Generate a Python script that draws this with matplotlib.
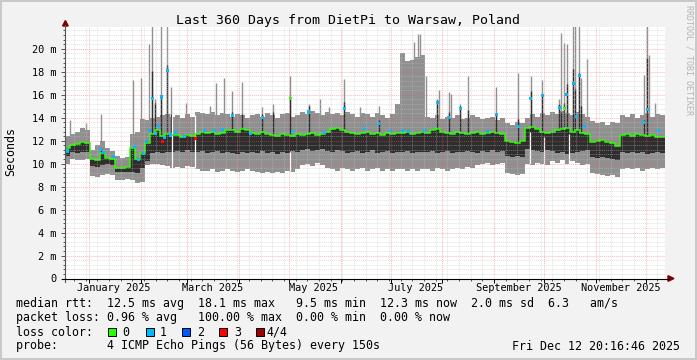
import numpy as np
import matplotlib
matplotlib.use("Agg")
import matplotlib.pyplot as plt
import matplotlib.dates as mdates
from matplotlib.ticker import MultipleLocator, FuncFormatter
from matplotlib.patches import Rectangle, Polygon
from matplotlib.lines import Line2D
from datetime import datetime

# ==========================================
# DATA (3-day bins)
# ==========================================
START = datetime(2024, 12, 17, 20, 16, 46)
BIN_DAYS = 3

# smoke top / bottom (light gray band), seconds * 1e-3
hi = [
    12.4, 12.6, 12.8, 13.1, 12.9, 11.2, 11.6, 12.0, 11.4, 11.1,
    10.7, 10.5, 10.6, 12.6, 12.8, 13.9, 13.8, 14.0, 14.1, 14.2,
    14.3, 14.1, 14.2, 14.0, 14.3, 14.1, 14.5, 14.4, 14.3, 14.5,
    14.2, 14.4, 14.3, 14.1, 14.3, 14.2, 14.0, 14.2, 14.3, 14.1,
    14.4, 14.2, 14.0, 14.3, 14.4, 14.1, 14.2, 14.5, 14.3, 14.6,
    14.4, 14.2, 14.5, 14.3, 14.4, 14.2, 14.5, 14.3, 14.1, 14.4,
    14.3, 14.1, 14.4, 14.2, 14.0, 14.3, 15.2, 19.6, 18.9, 19.0,
    19.3, 19.5, 14.1, 14.0, 14.2, 13.9, 14.1, 14.0, 14.2, 13.9,
    14.0, 14.2, 14.1, 13.9, 14.0, 14.1, 13.8, 14.0, 13.5, 13.4,
    13.6, 13.5, 14.0, 14.3, 14.1, 14.4, 14.2, 14.5, 14.3, 14.6,
    14.4, 14.2, 14.5, 14.3, 14.1, 13.7, 13.5, 13.6, 13.4, 13.6,
    13.5, 14.2, 14.1, 14.3, 14.0, 14.2, 14.4, 14.1, 14.3, 14.2,
]
lo = [
    10.0, 10.4, 10.3, 10.3, 10.4, 8.9, 8.8, 9.0, 9.1, 9.0,
    8.6, 8.6, 8.7, 8.6, 8.3, 8.4, 9.9, 10.0, 10.0, 9.9,
    9.8, 9.6, 9.7, 9.6, 9.8, 9.7, 9.5, 9.4, 9.4, 9.5,
    9.3, 9.4, 9.5, 9.4, 9.3, 9.4, 9.5, 9.4, 9.3, 9.2,
    9.3, 9.2, 9.3, 9.2, 9.4, 9.3, 9.5, 9.9, 10.0, 9.8,
    10.1, 9.9, 9.6, 9.5, 9.4, 9.6, 9.5, 9.4, 9.5, 9.6,
    9.4, 9.5, 9.6, 9.4, 9.5, 9.4, 9.5, 9.5, 9.4, 9.5,
    9.4, 9.5, 9.5, 9.4, 9.6, 9.5, 9.4, 9.5, 9.6, 9.5,
    9.7, 9.6, 9.9, 10.0, 10.1, 9.9, 10.0, 10.1, 9.2, 9.1,
    9.0, 9.1, 10.0, 9.9, 10.1, 10.0, 9.9, 10.2, 10.1, 10.3,
    10.0, 10.2, 10.1, 9.9, 10.0, 9.2, 9.1, 9.0, 8.9, 9.0,
    8.8, 9.5, 9.6, 9.5, 9.6, 9.4, 9.5, 9.6, 9.5, 9.6,
]
# dark smoke bottom, top is the median
dlo = [
    10.7, 11.0, 10.9, 11.0, 11.0, 9.8, 9.7, 9.9, 10.0, 9.9,
    9.3, 9.3, 9.3, 9.3, 9.2, 9.6, 10.2, 10.9, 11.0, 10.9,
    11.0, 11.0, 11.1, 11.0, 11.2, 11.0, 11.0, 11.1, 10.9, 11.0,
    11.1, 10.9, 11.0, 10.9, 10.8, 11.0, 10.9, 11.0, 10.9, 11.1,
    10.9, 11.0, 10.8, 11.0, 10.9, 11.1, 11.0, 11.2, 11.3, 11.1,
    11.2, 11.3, 11.1, 11.0, 11.2, 11.1, 10.9, 11.0, 11.1, 10.9,
    11.0, 11.2, 10.9, 11.0, 11.1, 10.9, 11.0, 11.0, 11.1, 10.9,
    11.0, 11.0, 11.0, 11.1, 10.9, 11.0, 11.1, 10.9, 11.0, 11.0,
    11.1, 11.0, 10.9, 11.1, 11.0, 11.2, 11.0, 11.1, 10.7, 10.6,
    10.7, 10.6, 11.3, 11.2, 11.1, 11.0, 11.2, 11.1, 10.9, 11.0,
    10.8, 10.9, 11.0, 11.1, 11.2, 10.6, 10.5, 10.6, 10.5, 10.4,
    10.3, 11.0, 10.9, 11.0, 10.9, 11.0, 10.8, 10.9, 11.0, 10.9,
]
med = [
    11.4, 11.6, 11.7, 11.9, 11.8, 10.4, 10.3, 10.9, 10.5, 10.4,
    9.6, 9.6, 9.7, 11.4, 10.4, 10.9, 11.8, 12.6, 12.9, 12.4,
    12.6, 12.5, 12.5, 12.3, 12.5, 12.4, 12.6, 12.8, 12.7, 12.8,
    12.6, 12.7, 12.9, 12.9, 12.8, 13.0, 12.9, 12.7, 12.6, 12.8,
    12.6, 12.5, 12.4, 12.6, 12.5, 12.4, 12.6, 12.5, 12.6, 12.7,
    12.5, 12.6, 12.8, 13.0, 13.1, 12.9, 12.8, 12.7, 12.6, 12.7,
    12.8, 12.6, 12.7, 12.5, 12.7, 12.6, 12.7, 12.7, 12.8, 12.6,
    12.7, 12.8, 12.7, 12.9, 13.0, 12.8, 12.7, 12.6, 12.8, 12.7,
    12.6, 12.7, 12.8, 12.6, 12.7, 12.8, 12.7, 12.6, 12.0, 11.9,
    11.8, 12.0, 13.1, 13.2, 13.0, 12.8, 12.7, 12.8, 12.9, 13.0,
    13.1, 12.8, 12.9, 12.7, 12.6, 11.9, 12.0, 12.1, 11.9, 11.8,
    11.5, 12.5, 12.6, 12.4, 12.6, 12.5, 12.4, 12.5, 12.3, 12.3,
]

# narrow spikes: day offset, smoke top, dark top (nan = none)
nan = np.nan
spike_day = [3.0, 12.6, 21.3, 40.8, 45.6, 50.0, 52.2, 53.9, 57.6, 60.8,
             63.2, 72.2, 86.7, 90.6, 95.4, 99.9, 106.0, 118.0, 124.4, 134.9,
             146.1, 152.9, 158.2, 167.4, 176.8, 188.3, 209.0, 211.6, 212.8, 216.5,
             223.0, 224.3, 230.0, 231.4, 236.8, 241.6, 258.2, 271.6, 279.2, 286.0,
             296.0, 297.4, 299.0, 300.7, 304.6, 305.8, 308.0, 309.4, 312.7, 347.0,
             349.0, 350.2, 353.8]
spike_top = [13.8, 13.5, 14.3, 17.3, 17.5, 20.4, 22.0, 15.6, 22.0, 22.0,
             16.7, 15.3, 15.0, 17.0, 17.5, 16.3, 17.1, 14.9, 15.2, 17.6,
             15.2, 15.6, 14.9, 17.4, 14.9, 15.0, 20.6, 21.3, 21.3, 17.6,
             15.6, 16.4, 16.2, 16.1, 15.2, 17.6, 16.7, 17.9, 17.6, 17.3,
             15.6, 21.4, 20.5, 20.4, 22.0, 22.0, 22.0, 17.5, 19.1, 17.7,
             22.0, 19.5, 15.3]
spike_dark = [nan, nan, 11.4, nan, nan, nan, 18.1, 15.3, 16.0, 18.6,
              14.3, nan, nan, nan, nan, 14.5, 14.3, 14.3, 14.5, 15.8,
              15.0, nan, nan, 15.4, nan, 13.8, nan, nan, nan, nan,
              15.5, nan, 14.5, nan, 15.0, 14.7, 14.4, 13.9, 16.3, 16.0,
              15.2, 14.5, 15.3, 16.9, 18.2, 16.5, 17.9, 15.0, nan, 13.8,
              19.2, nan, nan]

# median points with packet loss (0 = none, 1 = 1 of 4, 3 = 3 of 4)
loss_day = [1.0, 20.8, 22.6, 28.6, 41.2, 43.6, 46.6, 48.4, 50.5, 52.4,
            53.8, 56.0, 57.8, 58.0, 59.5, 61.0, 62.8, 65.8, 71.2, 77.8,
            83.2, 89.2, 94.0, 100.0, 110.8, 118.0, 134.8, 136.0, 146.0, 155.2,
            167.2, 179.2, 188.0, 194.8, 202.0, 206.0, 215.2, 223.0, 230.0, 236.8,
            253.0, 258.4, 271.6, 279.2, 286.0, 296.2, 299.2, 300.7, 304.6, 306.4,
            308.2, 311.2, 347.0, 349.0, 355.6]
loss_val = [11.1, 11.2, 11.0, 10.6, 11.5, 10.4, 10.9, 11.9, 12.9, 15.7,
            12.6, 13.2, 15.8, 11.9, 12.3, 18.1, 12.5, 12.7, 12.4, 12.2,
            12.9, 12.9, 13.0, 14.2, 12.6, 14.0, 15.7, 12.8, 14.5, 12.7,
            14.8, 13.1, 13.5, 12.9, 12.9, 12.8, 12.9, 15.3, 14.0, 14.8,
            12.8, 14.3, 13.2, 15.7, 15.9, 14.9, 14.8, 16.0, 17.0, 14.1,
            17.7, 13.2, 13.6, 14.7, 12.9]
loss_lvl = [1, 1, 1, 1, 1, 1, 1, 1, 1, 1,
            1, 1, 1, 3, 1, 1, 1, 1, 1, 3,
            1, 1, 1, 1, 1, 1, 0, 1, 1, 1,
            1, 1, 1, 1, 1, 1, 1, 1, 1, 1,
            1, 1, 1, 1, 1, 1, 0, 1, 1, 1,
            1, 1, 1, 1, 1]

# missing samples (white gaps): day offset, top of gap
gap_day = [64.0, 77.5, 134.6, 278.8, 287.0, 302.0]
gap_top = [14.3, 14.2, 11.0, 12.8, 12.3, 12.6]

loss_labels = ["0", "1", "2", "3", "4/4"]
loss_colors = ["#26ff00", "#00b8ff", "#0059ff", "#ff0000", "#a00000"]

label_month = [1, 3, 5, 7, 9, 11]
label_text = ["January 2025", "March 2025", "May 2025",
              "July 2025", "September 2025", "November 2025"]

title = "Last 360 Days from DietPi to Warsaw, Poland"
rtt_line = "median rtt:  12.5 ms avg  18.1 ms max   9.5 ms min  12.3 ms now  2.0 ms sd  6.3   am/s"
loss_line = "packet loss: 0.96 % avg   100.00 % max  0.00 % min  0.00 % now"
probe_line = "probe:       4 ICMP Echo Pings (56 Bytes) every 150s"
stamp = "Fri Dec 12 20:16:46 2025"

# ==========================================
# STYLE
# ==========================================
W, H = 697, 360
BACK = "#f2f2f2"
SMOKE = "#909090"
DARK = "#2e2e2e"
FONT = 8.4
plt.rcParams["font.family"] = "DejaVu Sans Mono"


def fx(x):
    return x / W


def fy(y):
    return 1 - y / H


X0, X1, Y0, Y1 = 65.4, 665.4, 278.5, 27.0
YMAX = 21.9

fig = plt.figure(figsize=(W / 100, H / 100), dpi=100, facecolor=BACK)
ax = fig.add_axes([fx(X0), fy(Y0), (X1 - X0) / W, (Y0 - Y1) / H])
ax.set_facecolor("white")

hi = np.array(hi)
lo = np.array(lo)
dlo = np.array(dlo)
med = np.array(med)
t0 = mdates.date2num(START)
n = len(med)
left = t0 + BIN_DAYS * np.arange(n)
edges = t0 + BIN_DAYS * np.arange(n + 1)

sd = np.array(spike_day)
sidx = (sd // BIN_DAYS).astype(int)
sdark = np.array(spike_dark)
has_dark = ~np.isnan(sdark)

# light smoke
ax.bar(left, hi - lo, bottom=lo, width=BIN_DAYS, align="edge",
       color=SMOKE, linewidth=0, zorder=1.0)
ax.vlines(t0 + sd, med[sidx], spike_top, color=SMOKE, lw=1.0, zorder=1.05)
# dark smoke
ax.bar(left, med - dlo, bottom=dlo, width=BIN_DAYS, align="edge",
       color=DARK, linewidth=0, zorder=1.1)
ax.vlines(t0 + sd[has_dark], med[sidx][has_dark], sdark[has_dark],
          color=DARK, lw=1.0, zorder=1.15)
# gaps
gd = np.array(gap_day)
gidx = (gd // BIN_DAYS).astype(int)
ax.vlines(t0 + gd, lo[gidx] - 0.05, gap_top, color="white", lw=0.9, zorder=1.2)
# median
ax.stairs(med, edges, baseline=None, color=loss_colors[0], lw=1.1, zorder=1.3)
ax.scatter(t0 + np.array(loss_day), loss_val, c=[loss_colors[k] for k in loss_lvl],
           marker="s", s=5, linewidths=0, zorder=1.4)

ax.set_xlim(t0, t0 + 360)
ax.set_ylim(0, YMAX)

# grid on top, like rrdtool
ax.set_axisbelow(False)
ax.yaxis.set_major_locator(MultipleLocator(2))
ax.yaxis.set_minor_locator(MultipleLocator(0.4))
ax.xaxis.set_major_locator(mdates.MonthLocator())
ax.xaxis.set_minor_locator(mdates.WeekdayLocator(byweekday=mdates.MO))
ax.grid(which="minor", color="#c0c0c0", alpha=0.45, linestyle=(0, (1, 1)), lw=0.7)
ax.grid(which="major", color="#ff5050", alpha=0.42, linestyle=(0, (1, 1)), lw=0.7)
ax.yaxis.set_major_formatter(FuncFormatter(lambda v, p: "0" if v == 0 else f"{v:.0f} m"))
ax.tick_params(axis="y", which="major", length=3, width=0.7, color="#555555",
               labelsize=7.35, pad=3.5)
ax.tick_params(axis="y", which="minor", length=1.5, width=0.7, color="#555555")
ax.tick_params(axis="x", which="major", length=3, width=0.7, labelbottom=False)
ax.tick_params(axis="x", which="minor", length=1.5, width=0.7, color="#555555")
for s in ax.spines.values():
    s.set_visible(False)

# month labels centred on the month (rrdtool precision offset)
for m, txt in zip(label_month, label_text):
    xm = mdates.date2num(datetime(2025, m, 1)) + 15
    ax.text(xm, -(290.7 - Y0) / (Y0 - Y1), txt, transform=ax.get_xaxis_transform(),
            ha="center", va="baseline", fontsize=7.35)

# axis lines and arrows
fig.add_artist(Line2D([fx(X0), fx(X0)], [fy(282), fy(25)], color="#555555", lw=0.8))
fig.add_artist(Line2D([fx(62), fx(669)], [fy(Y0), fy(Y0)], color="black", lw=0.8))
fig.add_artist(Polygon([(fx(62.6), fy(26)), (fx(68.2), fy(26)), (fx(65.4), fy(20.5))],
                       closed=True, color="#800000"))
fig.add_artist(Polygon([(fx(668), fy(275.7)), (fx(668), fy(281.3)), (fx(674), fy(Y0))],
                       closed=True, color="#800000"))

# texts
fig.text(fx(347.5), fy(24), title, ha="center", va="baseline", fontsize=9.55)
fig.text(fx(11), fy(151.5), "Seconds", rotation=90, ha="center", va="center", fontsize=FONT)
fig.text(fx(688.5), fy(5), "RRDTOOL / TOBI OETIKER", rotation=270, ha="center",
         va="top", fontsize=6, color="#b4b4b4")
fig.text(fx(16), fy(306.7), rtt_line, ha="left", va="baseline", fontsize=FONT)
fig.text(fx(16), fy(321.3), loss_line, ha="left", va="baseline", fontsize=FONT)
fig.text(fx(16), fy(335.5), "loss color:", ha="left", va="baseline", fontsize=FONT)
fig.text(fx(16), fy(349.5), probe_line, ha="left", va="baseline", fontsize=FONT)
fig.text(fx(680), fy(349.5), stamp, ha="right", va="baseline", fontsize=FONT)

sq_x = [108, 145.5, 182, 219, 256]
lab_x = [122, 160, 197, 234, 266]
for xs, xl, c, lab in zip(sq_x, lab_x, loss_colors, loss_labels):
    fig.add_artist(Rectangle((fx(xs), fy(335.5)), 8 / W, 8 / H, transform=fig.transFigure,
                             facecolor=c, edgecolor="black", lw=0.7))
    fig.text(fx(xl), fy(335.5), lab, ha="left", va="baseline", fontsize=FONT)

# frame
fig.add_artist(Rectangle((fx(1), fy(359)), 695 / W, 358 / H, transform=fig.transFigure,
                         fill=False, edgecolor="#c8c8c8", lw=1.4))

fig.savefig("out.png", dpi=100, facecolor=BACK)
